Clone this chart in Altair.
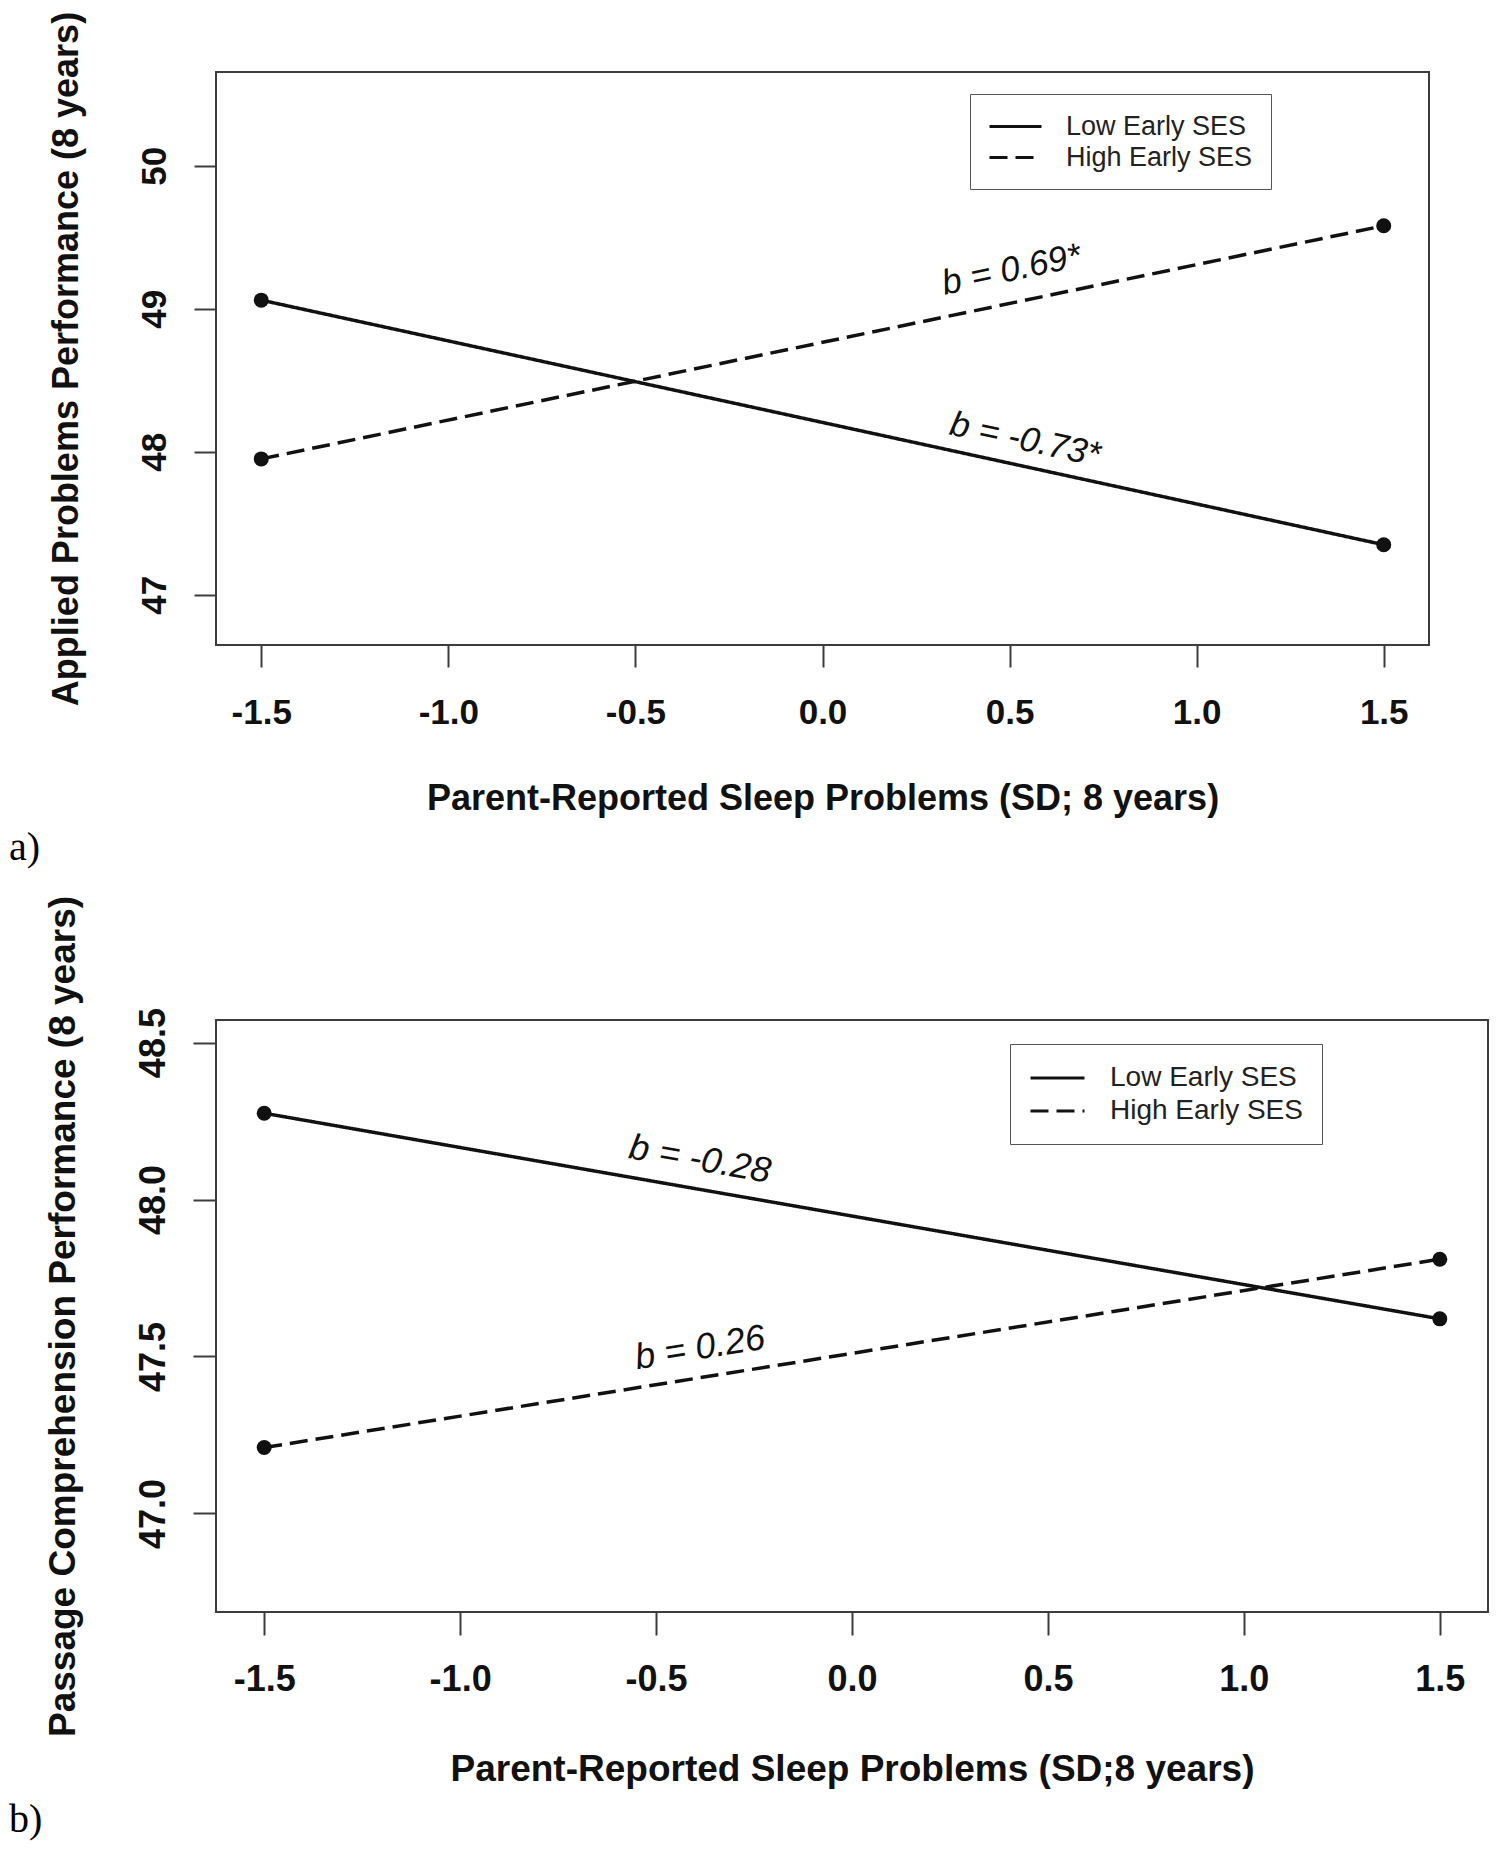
import altair as alt
import pandas as pd

# ---------------- data ----------------
GROUPS = ["Low Early SES", "High Early SES"]
SLEEP_SD = [-1.5, 1.5]

# panel a) Applied Problems
A_LOW = [49.06, 47.35]
A_HIGH = [47.95, 49.58]
# panel b) Passage Comprehension
B_LOW = [48.275, 47.62]
B_HIGH = [47.21, 47.81]

X_TICKS = [-1.5, -1.0, -0.5, 0.0, 0.5, 1.0, 1.5]
A_Y_TICKS = [47, 48, 49, 50]
B_Y_TICKS = [47.0, 47.5, 48.0, 48.5]

A_X_DOMAIN = [-1.621, 1.621]
A_Y_DOMAIN = [46.649, 50.655]
B_X_DOMAIN = [-1.623, 1.623]
B_Y_DOMAIN = [46.686, 48.572]

# slope annotations (text, x, y in data units)
A_NOTE_TEXT = ["b = 0.69*", "b = -0.73*"]
A_NOTE_X = [0.505, 0.542]
A_NOTE_Y = [49.273, 48.085]
B_NOTE_TEXT = ["b = -0.28", "b = 0.26"]
B_NOTE_X = [-0.388, -0.388]
B_NOTE_Y = [48.127, 47.527]

A_X_TITLE = "Parent-Reported Sleep Problems (SD; 8 years)"
A_Y_TITLE = "Applied Problems Performance (8 years)"
B_X_TITLE = "Parent-Reported Sleep Problems (SD;8 years)"
B_Y_TITLE = "Passage Comprehension Performance (8 years)"

# ---------------- styles ----------------
SANS = "Liberation Sans"
SERIF = "Liberation Serif"
INK = "#111111"
FRAME = "#3c3c3c"
X_LABEL_EXPR = ("datum.value < 0 ? '-' + format(-datum.value, '.1f') "
                ": format(datum.value, '.1f')")


def make_panel(low, high, x_domain, y_domain, y_ticks, y_format, x_title, y_title,
               note_text, note_x, note_y, note_angles, tag, st):
    df = pd.DataFrame({
        "sleep": SLEEP_SD * 2,
        "score": low + high,
        "group": [GROUPS[0]] * len(low) + [GROUPS[1]] * len(high),
    })
    x_enc = alt.X(
        "sleep:Q",
        scale=alt.Scale(domain=x_domain, nice=False, zero=False),
        axis=alt.Axis(
            title=x_title, values=X_TICKS, labelExpr=X_LABEL_EXPR,
            grid=False, domain=False, tickSize=st["tick"], tickWidth=2,
            tickColor=FRAME, labelFont=SANS, labelFontWeight="bold",
            labelFontSize=st["tick_fs"], labelColor=INK,
            labelPadding=st["xlab_pad"], labelFlush=False, labelOverlap=False,
            titleFont=SANS, titleFontWeight="bold", titleFontSize=st["title_fs"],
            titleColor=INK, titlePadding=st["xtitle_pad"],
        ),
    )
    y_enc = alt.Y(
        "score:Q",
        scale=alt.Scale(domain=y_domain, nice=False, zero=False),
        axis=alt.Axis(
            title=y_title, values=y_ticks, format=y_format,
            grid=False, domain=False, tickSize=st["tick"], tickWidth=2,
            tickColor=FRAME, labelFont=SANS, labelFontWeight="bold",
            labelFontSize=st["tick_fs"], labelColor=INK, labelAngle=270,
            labelAlign="center", labelBaseline="alphabetic",
            labelPadding=st["ylab_pad"], labelFlush=False, labelOverlap=False,
            titleFont=SANS, titleFontWeight="bold", titleFontSize=st["title_fs"],
            titleColor=INK, titlePadding=st["ytitle_pad"],
        ),
    )
    lines = alt.Chart(df).mark_line(color=INK, strokeWidth=3.5, strokeCap="butt").encode(
        x=x_enc,
        y=y_enc,
        strokeDash=alt.StrokeDash(
            "group:N",
            scale=alt.Scale(domain=GROUPS, range=[[1, 0], [18, 8]]),
            legend=alt.Legend(
                title=None, orient="none", legendX=st["leg_x"], legendY=st["leg_y"],
                symbolType="M-1,0H3", symbolSize=st["sym_size"],
                symbolStrokeWidth=3, symbolStrokeColor=INK,
                labelFont=SANS, labelFontSize=st["leg_fs"], labelColor="#222222",
                labelLimit=400, labelOffset=st["leg_off"], rowPadding=st["leg_row"],
                padding=st["leg_pad"], strokeColor="#555555", fillColor="white",
            ),
        ),
    )
    points = alt.Chart(df).mark_circle(color=INK, size=225, opacity=1).encode(
        x=x_enc, y=y_enc
    )
    notes = []
    for t, nx, ny, ang in zip(note_text, note_x, note_y, note_angles):
        ndf = pd.DataFrame({"sleep": [nx], "score": [ny], "label": [t]})
        notes.append(
            alt.Chart(ndf).mark_text(
                font=SANS, fontStyle="italic", fontSize=st["note_fs"], angle=ang,
                align="center", baseline="middle", color=INK,
            ).encode(x=x_enc, y=y_enc, text="label:N")
        )
    return alt.layer(lines, points, *notes).properties(
        width=st["w"], height=st["h"],
        title=alt.TitleParams(
            tag, orient="bottom", anchor="start", frame="group",
            dx=st["tag_dx"], offset=st["tag_off"], font=SERIF, fontSize=40,
            fontWeight="normal", color="black",
        ),
    )


style_a = dict(w=1213, h=573, tick=22, tick_fs=35, title_fs=36, note_fs=35,
               xlab_pad=28, ylab_pad=29, xtitle_pad=51, ytitle_pad=52,
               leg_x=754, leg_y=22, sym_size=676, leg_fs=27, leg_off=49,
               leg_row=3, leg_pad=18, tag_dx=-207, tag_off=12)
style_b = dict(w=1272, h=592, tick=23, tick_fs=36, title_fs=37, note_fs=36,
               xlab_pad=27, ylab_pad=29, xtitle_pad=54, ytitle_pad=53,
               leg_x=794, leg_y=24, sym_size=729, leg_fs=28, leg_off=51,
               leg_row=4, leg_pad=19, tag_dx=-207, tag_off=13)

panel_a = make_panel(A_LOW, A_HIGH, A_X_DOMAIN, A_Y_DOMAIN, A_Y_TICKS, "d",
                     A_X_TITLE, A_Y_TITLE, A_NOTE_TEXT, A_NOTE_X, A_NOTE_Y,
                     [348.3, 12.2], "a)", style_a)
panel_b = make_panel(B_LOW, B_HIGH, B_X_DOMAIN, B_Y_DOMAIN, B_Y_TICKS, ".1f",
                     B_X_TITLE, B_Y_TITLE, B_NOTE_TEXT, B_NOTE_X, B_NOTE_Y,
                     [10.0, 350.9], "b)", style_b)

chart = alt.concat(
    panel_a, panel_b, columns=1, spacing=25,
    padding={"left": 0, "top": 2, "right": 2, "bottom": 0},
).resolve_scale(
    x="independent", y="independent", strokeDash="independent"
).configure(
    background="white",
    view=alt.ViewConfig(stroke=FRAME, strokeWidth=2),
)

chart.save("out.html", embed_options={"renderer": "svg", "actions": False})
